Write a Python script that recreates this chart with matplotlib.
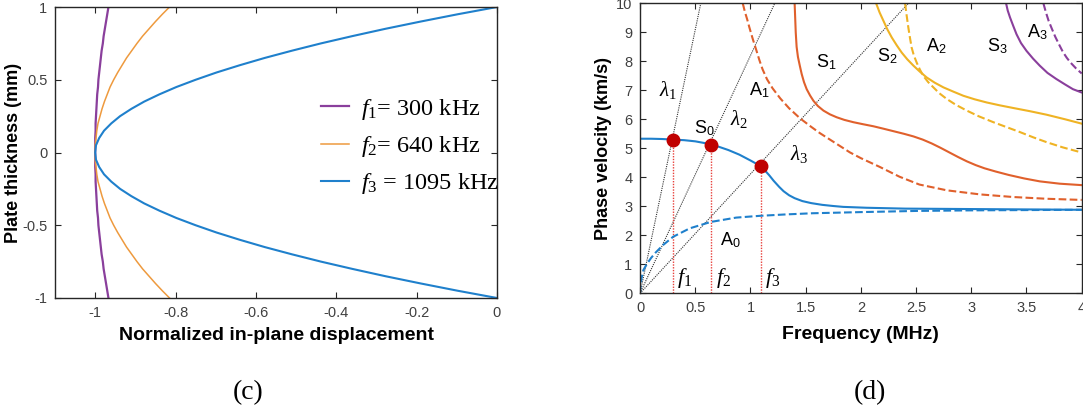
import numpy as np
import matplotlib
matplotlib.use('Agg')
import matplotlib.pyplot as plt

plt.rcParams['font.family'] = ['Liberation Sans', 'DejaVu Sans']
plt.rcParams['axes.unicode_minus'] = False
plt.rcParams['mathtext.fontset'] = 'custom'
plt.rcParams['mathtext.rm'] = 'Liberation Serif'
plt.rcParams['mathtext.it'] = 'Liberation Serif:italic'
plt.rcParams['mathtext.bf'] = 'Liberation Serif:bold'
plt.rcParams['mathtext.sf'] = 'Liberation Sans'

# ---- (c) in-plane displacement across the plate thickness ----
thickness = np.linspace(-1, 1, 41)
disp_f1 = [-0.967, -0.970, -0.973, -0.976, -0.979, -0.981, -0.984, -0.986, -0.988, -0.990,
           -0.992, -0.993, -0.995, -0.996, -0.997, -0.998, -0.999, -0.999, -1.000, -1.000,
           -1.000,
           -1.000, -1.000, -0.999, -0.999, -0.998, -0.997, -0.996, -0.995, -0.993, -0.992,
           -0.990, -0.988, -0.986, -0.984, -0.981, -0.979, -0.976, -0.973, -0.970, -0.967]
disp_f2 = [-0.815, -0.833, -0.850, -0.866, -0.882, -0.896, -0.909, -0.922, -0.933, -0.944,
           -0.954, -0.963, -0.970, -0.977, -0.983, -0.988, -0.993, -0.996, -0.998, -1.000,
           -1.000,
           -1.000, -0.998, -0.996, -0.993, -0.988, -0.983, -0.977, -0.970, -0.963, -0.954,
           -0.944, -0.933, -0.922, -0.909, -0.896, -0.882, -0.866, -0.850, -0.833, -0.815]
disp_f3 = [0.000, -0.098, -0.190, -0.278, -0.360, -0.438, -0.510, -0.578, -0.640, -0.698,
           -0.750, -0.798, -0.840, -0.878, -0.910, -0.938, -0.960, -0.978, -0.990, -0.998,
           -1.000,
           -0.998, -0.990, -0.978, -0.960, -0.938, -0.910, -0.878, -0.840, -0.798, -0.750,
           -0.698, -0.640, -0.578, -0.510, -0.438, -0.360, -0.278, -0.190, -0.098, 0.000]
profile_labels = [r'$f_{\mathit{1}}$= 300 kHz', r'$f_{\mathit{2}}$= 640 kHz', r'$f_{\mathit{3}}$ = 1095 kHz']

# ---- (d) dispersion curves ----
s0_f = [0, 0.1, 0.2, 0.3, 0.4, 0.5, 0.6, 0.7, 0.8, 0.9, 1.0, 1.095, 1.13, 1.17, 1.21, 1.26,
        1.30, 1.35, 1.40, 1.47, 1.55, 1.65, 1.75, 1.84, 2.05, 2.4, 2.8, 3.2, 3.6, 4.0]
s0_v = [5.33, 5.33, 5.32, 5.30, 5.28, 5.24, 5.17, 5.07, 4.94, 4.78, 4.58, 4.38, 4.24, 4.07, 3.88, 3.67,
        3.52, 3.38, 3.28, 3.18, 3.11, 3.05, 3.01, 2.98, 2.95, 2.92, 2.91, 2.90, 2.89, 2.88]
a0_f = [0, 0.005, 0.015, 0.03, 0.06, 0.1, 0.14, 0.21, 0.3, 0.45, 0.64, 0.87, 1.08, 1.32, 1.56,
        2.0, 2.5, 3.0, 3.5, 4.0]
a0_v = [0, 0.3, 0.55, 0.8, 1.0, 1.22, 1.4, 1.67, 1.95, 2.24, 2.46, 2.61, 2.67, 2.72, 2.76,
        2.80, 2.84, 2.86, 2.87, 2.88]
a1_f = [0.93, 0.95, 0.97, 0.99, 1.02, 1.05, 1.08, 1.11, 1.15, 1.2, 1.27, 1.35, 1.45, 1.55, 1.63,
        1.72, 1.81, 1.90, 2.0, 2.17, 2.35, 2.53, 2.78, 3.08, 3.38, 3.68, 4.0]
a1_v = [10, 9.7, 9.45, 9.17, 8.78, 8.42, 8.05, 7.72, 7.38, 7.07, 6.72, 6.38, 6.03, 5.74, 5.52,
        5.30, 5.08, 4.86, 4.66, 4.36, 4.02, 3.75, 3.55, 3.41, 3.32, 3.26, 3.22]
s1_f = [1.400, 1.405, 1.410, 1.418, 1.430, 1.448, 1.464, 1.485, 1.509, 1.54, 1.570, 1.61, 1.661,
        1.72, 1.781, 1.85, 1.932, 2.02, 2.113, 2.2, 2.295, 2.39, 2.476, 2.56, 2.64, 2.72, 2.80,
        2.88, 2.96, 3.04, 3.12, 3.22, 3.34, 3.48, 3.62, 3.80, 4.0]
s1_v = [10, 9.5, 9.0, 8.5, 8.15, 7.83, 7.56, 7.28, 7.04, 6.82, 6.64, 6.46, 6.30,
        6.17, 6.07, 5.98, 5.90, 5.83, 5.76, 5.68, 5.59, 5.50, 5.41, 5.30, 5.17, 5.02, 4.86,
        4.70, 4.55, 4.42, 4.31, 4.20, 4.08, 3.96, 3.86, 3.78, 3.73]
s2_f = [2.138, 2.17, 2.205, 2.24, 2.28, 2.325, 2.370, 2.42, 2.476, 2.535, 2.597, 2.67, 2.748,
        2.84, 2.929, 3.03, 3.14, 3.26, 3.38, 3.53, 3.68, 3.85, 4.0]
s2_v = [10, 9.68, 9.39, 9.1, 8.82, 8.55, 8.30, 8.07, 7.85, 7.64, 7.44, 7.26, 7.10,
        6.95, 6.81, 6.69, 6.58, 6.48, 6.39, 6.28, 6.16, 6.00, 5.85]
a2_f = [2.40, 2.415, 2.430, 2.445, 2.46, 2.48, 2.506, 2.535, 2.567, 2.61, 2.657, 2.71, 2.778,
        2.86, 2.959, 3.07, 3.20, 3.32, 3.44, 3.56, 3.683, 3.83, 3.985]
a2_v = [10, 9.57, 9.16, 8.8, 8.47, 8.2, 7.95, 7.71, 7.49, 7.28, 7.10, 6.9, 6.70,
        6.5, 6.30, 6.1, 5.90, 5.73, 5.56, 5.38, 5.21, 5.03, 4.87]
s3_f = [3.315, 3.33, 3.351, 3.38, 3.41, 3.45, 3.50, 3.56, 3.62, 3.69, 3.77, 3.85, 3.92, 3.995]
s3_v = [10, 9.75, 9.51, 9.22, 8.93, 8.63, 8.36, 8.09, 7.85, 7.60, 7.39, 7.2, 7.04, 6.93]
a3_f = [3.653, 3.675, 3.70, 3.73, 3.76, 3.795, 3.83, 3.865, 3.90, 3.95, 4.0]
a3_v = [10, 9.7, 9.4, 9.12, 8.85, 8.58, 8.32, 8.12, 7.95, 7.75, 7.58]

# excitation points on S0 and the wavelength lines through them
marker_f = [0.300, 0.640, 1.095]
marker_v = [5.30, 5.13, 4.38]
lambda_top_f = [0.55, 1.22, 2.43]

mode_names = ['S$_\\mathsf{0}$', 'A$_\\mathsf{0}$', 'A$_\\mathsf{1}$', 'S$_\\mathsf{1}$',
              'S$_\\mathsf{2}$', 'A$_\\mathsf{2}$', 'S$_\\mathsf{3}$', 'A$_\\mathsf{3}$']
mode_name_f = [0.58, 0.82, 1.08, 1.69, 2.24, 2.68, 3.24, 3.60]
mode_name_v = [5.68, 1.83, 7.0, 7.97, 8.19, 8.53, 8.53, 8.99]
lambda_names = [r'$\lambda_{\mathit{1}}$', r'$\lambda_{\mathit{2}}$', r'$\lambda_{\mathit{3}}$']
lambda_name_f = [0.25, 0.90, 1.44]
lambda_name_v = [7.0, 6.02, 4.82]
freq_names = [r'$f_{\mathit{1}}$', r'$f_{\mathit{2}}$', r'$f_{\mathit{3}}$']
freq_name_f = [0.40, 0.76, 1.20]
freq_name_v = [0.52, 0.52, 0.52]

BLUE = '#1f80cc'
ORANGE = '#e0602c'
YELLOW = '#efb324'
PURPLE = '#8a3f9c'


def style_axes(ax):
    for s in ax.spines.values():
        s.set_color('#262626')
        s.set_linewidth(1.0)
    ax.tick_params(direction='in', top=True, right=True, length=4, width=0.8,
                   colors='#262626', labelcolor='#404040', labelsize=10.5, pad=5.5)


fig = plt.figure(figsize=(10.83, 4.12), dpi=100)

ax1 = fig.add_axes([0.0508, 0.2767, 0.4081, 0.7063])
ax1.plot(disp_f1, thickness, color=PURPLE, lw=1.6, label=profile_labels[0])
ax1.plot(disp_f2, thickness, color='#ee9a3e', lw=1.1, label=profile_labels[1])
ax1.plot(disp_f3, thickness, color=BLUE, lw=1.5, label=profile_labels[2])
ax1.set_xlim(-1.1, 0)
ax1.set_ylim(-1, 1)
ax1.set_xticks([-1, -0.8, -0.6, -0.4, -0.2, 0])
ax1.set_xticklabels(['-1', '-0.8', '-0.6', '-0.4', '-0.2', '0'])
ax1.set_yticks([-1, -0.5, 0, 0.5, 1])
ax1.set_yticklabels(['-1', '-0.5', '0', '0.5', '1'])
style_axes(ax1)
ax1.set_xlabel('Normalized in-plane displacement', fontsize=14, fontweight='bold', labelpad=5)
ax1.set_ylabel('Plate thickness (mm)', fontsize=13, fontweight='bold', labelpad=0)
ax1.legend(loc='upper left', bbox_to_anchor=(0.553, 0.766), frameon=False,
           prop={'family': 'Liberation Serif', 'size': 17.5},
           handlelength=1.15, handletextpad=0.5, labelspacing=0.5)

ax2 = fig.add_axes([0.5910, 0.2881, 0.4078, 0.7039])
for top in lambda_top_f:
    ax2.plot([0, top], [0, 10], color='#333333', lw=0.8, linestyle=(0, (1, 1)))
ax2.vlines(marker_f, 0, marker_v, colors='#e8413c', linestyles=(0, (1, 1)), lw=1.0)
ax2.plot(s0_f, s0_v, color=BLUE, lw=1.5)
ax2.plot(a0_f, a0_v, color=BLUE, lw=1.5, linestyle='--')
ax2.plot(s1_f, s1_v, color=ORANGE, lw=1.5)
ax2.plot(a1_f, a1_v, color=ORANGE, lw=1.5, linestyle='--')
ax2.plot(s2_f, s2_v, color=YELLOW, lw=1.5)
ax2.plot(a2_f, a2_v, color=YELLOW, lw=1.5, linestyle='--')
ax2.plot(s3_f, s3_v, color=PURPLE, lw=1.5)
ax2.plot(a3_f, a3_v, color=PURPLE, lw=1.5, linestyle='--')
ax2.plot(marker_f, marker_v, 'o', color='#c00000', markersize=9, zorder=5)

for name, x, y in zip(mode_names, mode_name_f, mode_name_v):
    ax2.text(x, y, name, fontsize=13, ha='center', va='center', family='Liberation Sans')
for name, x, y in zip(lambda_names, lambda_name_f, lambda_name_v):
    ax2.text(x, y, name, fontsize=15, ha='center', va='center')
for name, x, y in zip(freq_names, freq_name_f, freq_name_v):
    ax2.text(x, y, name, fontsize=16, ha='center', va='center')

ax2.set_xlim(0, 4)
ax2.set_ylim(0, 10)
ax2.set_xticks([0, 0.5, 1, 1.5, 2, 2.5, 3, 3.5, 4])
ax2.set_xticklabels(['0', '0.5', '1', '1.5', '2', '2.5', '3', '3.5', '4'])
ax2.set_yticks(range(11))
style_axes(ax2)
ax2.set_xlabel('Frequency (MHz)', fontsize=14, fontweight='bold', labelpad=8)
ax2.set_ylabel('Phase velocity (km/s)', fontsize=13, fontweight='bold', labelpad=3)

fig.text(0.229, 0.048, '(c)', fontsize=20, family='Liberation Serif', ha='center', va='center')
fig.text(0.803, 0.048, '(d)', fontsize=20, family='Liberation Serif', ha='center', va='center')

fig.savefig('out.png', dpi=100)
